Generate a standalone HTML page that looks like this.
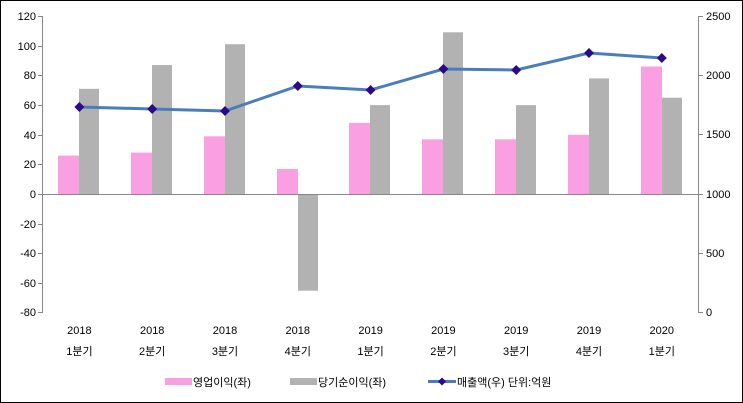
<!DOCTYPE html>
<html><head><meta charset="utf-8"><style>
html,body{margin:0;padding:0;background:#fff}
svg{display:block}
text{font-family:"Liberation Sans","Noto Sans CJK KR",sans-serif;font-size:11px;fill:#000}
</style></head><body>
<svg width="743" height="403" viewBox="0 0 743 403" xmlns="http://www.w3.org/2000/svg">
<rect x="0.5" y="0.5" width="742" height="402" fill="#fff" stroke="#000" stroke-width="1"/>
<g fill="#f99fe2">
<rect x="58" y="155.6" width="21" height="38.6"/>
<rect x="131" y="152.6" width="21" height="41.6"/>
<rect x="204" y="136.3" width="21" height="57.9"/>
<rect x="277" y="169" width="21" height="25.2"/>
<rect x="349" y="122.9" width="21" height="71.3"/>
<rect x="422" y="139.3" width="21" height="54.9"/>
<rect x="495" y="139.3" width="21" height="54.9"/>
<rect x="568" y="134.8" width="21" height="59.4"/>
<rect x="641" y="66.5" width="21" height="127.7"/>
</g>
<g fill="#b2b2b2">
<rect x="79" y="88.8" width="20" height="105.4"/>
<rect x="152" y="65" width="20" height="129.2"/>
<rect x="225" y="44.2" width="20" height="150"/>
<rect x="298" y="194.2" width="20" height="96.5"/>
<rect x="370" y="105.1" width="20" height="89.1"/>
<rect x="443" y="32.3" width="20" height="161.9"/>
<rect x="516" y="105.1" width="20" height="89.1"/>
<rect x="589" y="78.4" width="20" height="115.8"/>
<rect x="662" y="97.7" width="20" height="96.5"/>
</g>
<g stroke="#868686" stroke-width="1" fill="none">
<line x1="42.5" y1="16" x2="42.5" y2="313"/>
<line x1="698.5" y1="16" x2="698.5" y2="313"/>
<line x1="42" y1="194.5" x2="698" y2="194.5"/>
<path d="M38 16.5H42M38 46.5H42M38 75.5H42M38 105.5H42M38 135.5H42M38 164.5H42M38 194.5H42M38 224.5H42M38 253.5H42M38 283.5H42M38 312.5H42"/>
<path d="M698 16.5H703M698 75.5H703M698 134.5H703M698 194.5H703M698 253.5H703M698 312.5H703"/>
</g>
<g text-anchor="end">
<text x="36" y="20">120</text><text x="36" y="50">100</text><text x="36" y="79">80</text>
<text x="36" y="109">60</text><text x="36" y="139">40</text><text x="36" y="168">20</text>
<text x="36" y="198">0</text><text x="36" y="228">-20</text><text x="36" y="257">-40</text>
<text x="36" y="287">-60</text><text x="36" y="316">-80</text>
</g>
<g>
<text x="706" y="20">2500</text><text x="706" y="79">2000</text><text x="706" y="138">1500</text>
<text x="706" y="198">1000</text><text x="706" y="257">500</text><text x="706" y="316">0</text>
</g>
<polyline fill="none" stroke="#4a7ebb" stroke-width="3" points="79.4,107 152.2,109 225,111 297.8,86 370.6,90 443.4,69 516.2,70 589,53 661.8,58"/>
<g fill="#2a0a8a">
<path d="M79.4 102l5 5-5 5-5-5z"/><path d="M152.2 104l5 5-5 5-5-5z"/><path d="M225 106l5 5-5 5-5-5z"/>
<path d="M297.8 81l5 5-5 5-5-5z"/><path d="M370.6 85l5 5-5 5-5-5z"/><path d="M443.4 64l5 5-5 5-5-5z"/>
<path d="M516.2 65l5 5-5 5-5-5z"/><path d="M589 48l5 5-5 5-5-5z"/><path d="M661.8 53l5 5-5 5-5-5z"/>
</g>
<g text-anchor="middle">
<text x="79.4" y="334">2018</text><text x="152.2" y="334">2018</text><text x="225" y="334">2018</text>
<text x="297.8" y="334">2018</text><text x="370.6" y="334">2019</text><text x="443.4" y="334">2019</text>
<text x="516.2" y="334">2019</text><text x="589" y="334">2019</text><text x="661.8" y="334">2020</text>
<text x="79.4" y="355">1분기</text><text x="152.2" y="355">2분기</text><text x="225" y="355">3분기</text>
<text x="297.8" y="355">4분기</text><text x="370.6" y="355">1분기</text><text x="443.4" y="355">2분기</text>
<text x="516.2" y="355">3분기</text><text x="589" y="355">4분기</text><text x="661.8" y="355">1분기</text>
</g>
<rect x="165" y="378" width="27" height="7" fill="#f99fe2"/>
<text x="193" y="386">영업이익(좌)</text>
<rect x="290" y="378" width="27" height="7" fill="#b2b2b2"/>
<text x="318" y="386">당기순이익(좌)</text>
<line x1="428" y1="381.5" x2="456" y2="381.5" stroke="#4a7ebb" stroke-width="3"/>
<path d="M442 377.5l4 4-4 4-4-4z" fill="#2a0a8a"/>
<text x="457" y="386">매출액(우)  단위:억원</text>
</svg>
</body></html>
